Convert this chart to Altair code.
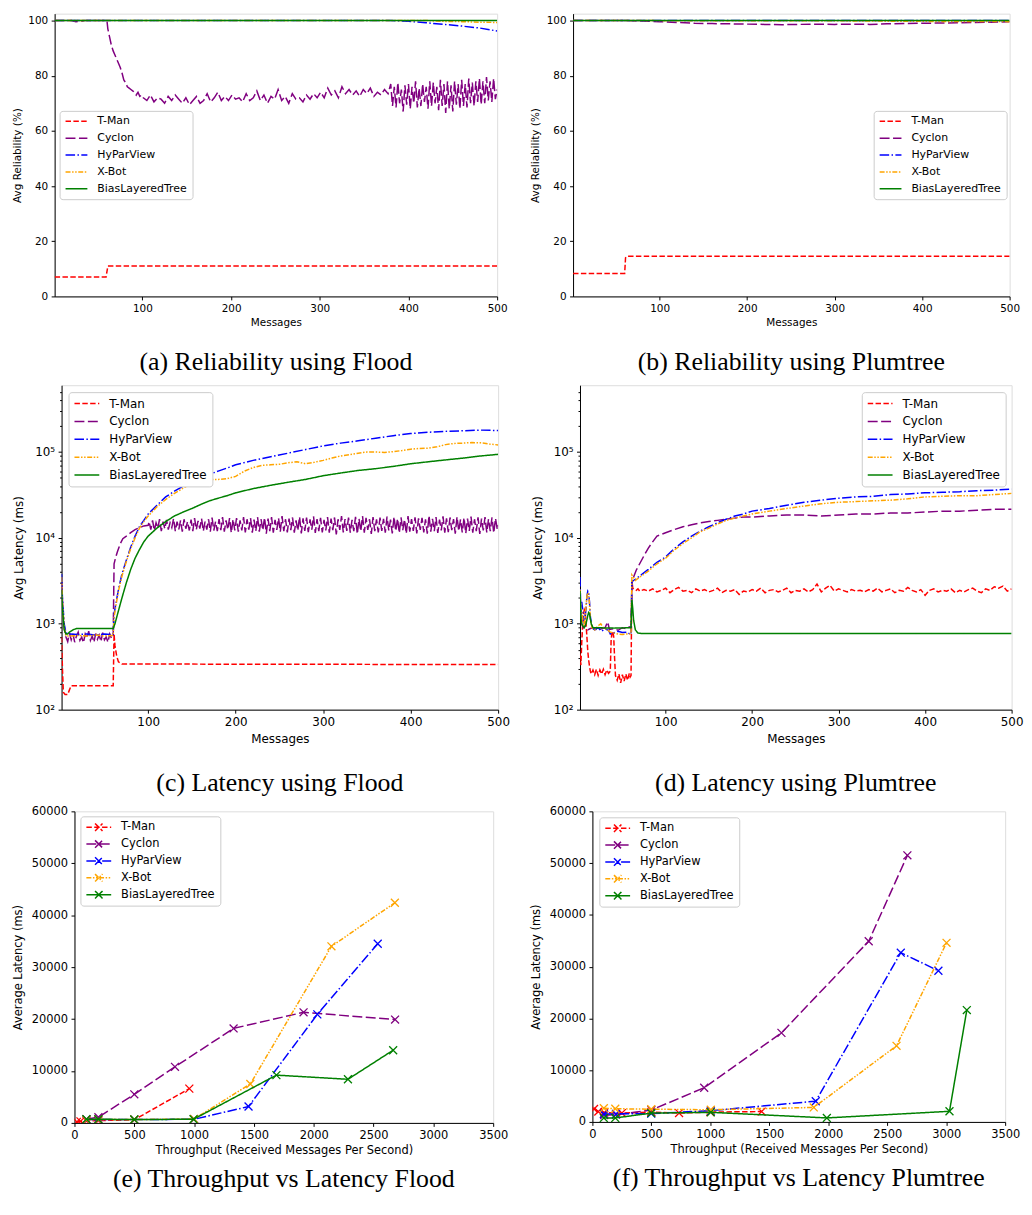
import altair as alt
import pandas as pd

FONT = "DejaVu Sans"
SERIF = "Liberation Serif"
SERIES = ["T-Man", "Cyclon", "HyParView", "X-Bot", "BiasLayeredTree"]
COLORS = ["#ff0000", "#800080", "#0000ff", "#ffa500", "#008000"]
DASHES = [[5.5, 2.4], [10, 3.5], [9.6, 2.4, 1.5, 2.4], [5, 1.6, 1.5, 1.6, 1.5, 1.6], [1, 0]]
XPATH = "M-1,-1L1,1M-1,1L1,-1"
LEG_PATH = "M-1,0L1,0M-0.3,-0.3L0.3,0.3M-0.3,0.3L0.3,-0.3"

MSG_TICKS = [100, 200, 300, 400, 500]
REL_TICKS = [0, 20, 40, 60, 80, 100]
LOG_TICKS = [100, 200, 300, 400, 500, 600, 700, 800, 900,
             1000, 2000, 3000, 4000, 5000, 6000, 7000, 8000, 9000,
             10000, 20000, 30000, 40000, 50000, 60000, 70000, 80000, 90000,
             100000, 200000, 300000, 400000, 500000]
THR_TICKS = [0, 500, 1000, 1500, 2000, 2500, 3000, 3500]
LAT_TICKS = [0, 10000, 20000, 30000, 40000, 50000, 60000]

# ---------------- (a) Reliability using Flood ----------------
a_tman_x = [1, 59, 61, 500]
a_tman_y = [7, 7, 11, 11]
a_cyc_x = [1, 20, 25, 30, 35, 59, 60, 61, 63, 65, 67, 69, 71, 73, 75, 77, 79, 81, 83, 85,
           87, 89, 91, 93, 95, 97, 99] + list(range(101, 378, 4)) + list(range(380, 501, 2))
a_cyc_y = [100, 100, 99.6, 99.7, 100, 100, 100, 97, 94, 91, 89, 87.5, 86, 84.5, 83, 81, 78.5, 77.5, 76, 75.5,
           75, 74.5, 74, 73, 74, 72.5, 73,
           72, 71, 73, 70.5, 72, 71.5, 70, 72.5, 71, 73, 71.5, 70, 72,
           69.5, 71, 72.5, 70, 71, 73.5, 70.5, 72, 74, 71, 72.5, 71,
           73, 71.5, 72, 70.5, 73.5, 71, 72, 74.5, 71, 73, 70, 72.5, 71.5,
           75, 71, 72.5, 70, 73.5, 71.5, 72, 70.5, 73, 71.5, 73.5, 72,
           74, 72, 75.5, 73, 74.5, 72, 76, 73.5, 75, 73, 74.5, 72.5, 75,
           73.5, 75.5, 72.5, 74, 73, 75, 73.5,
           77, 69, 76, 68.5, 77.5, 70, 75, 67, 76.5, 69.5,
           77, 68, 76, 70, 78, 68.5, 75.5, 69, 77, 70.5,
           76, 68, 78, 69, 77.5, 70, 76, 67.5, 78.5, 69,
           77, 66.5, 78, 68, 76.5, 67, 78, 69.5, 77, 68,
           78.5, 69, 77, 68.5, 79, 70, 77.5, 69, 78, 70.5,
           79, 69.5, 78, 70, 79.5, 71, 78, 70.5, 79, 71.5, 75]
a_hpv_x = [1, 380, 400, 420, 440, 460, 480, 500]
a_hpv_y = [100, 100, 99.7, 99.2, 98.6, 98.0, 97.3, 96.2]
a_xbot_x = [1, 420, 440, 460, 480, 500]
a_xbot_y = [100, 100, 99.7, 99.6, 99.4, 99.3]
a_blt_x = [1, 500]
a_blt_y = [100, 100]

# ---------------- (b) Reliability using Plumtree ----------------
b_tman_x = [1, 60, 61, 63, 500]
b_tman_y = [8.3, 8.3, 14, 14.6, 14.6]
b_cyc_x = [1, 60, 80, 100, 120, 140, 160, 180, 200, 220, 240, 260, 280, 300, 320, 340, 360,
           380, 400, 420, 440, 460, 480, 500]
b_cyc_y = [100, 100, 99.8, 99.6, 99.3, 99.0, 98.9, 98.8, 98.7, 98.6, 98.5, 98.6, 98.7, 98.6,
           98.7, 98.6, 98.8, 98.9, 99.0, 99.1, 99.2, 99.3, 99.4, 99.6]
b_hpv_x = [1, 500]
b_hpv_y = [100, 100]
b_xbot_x = [1, 300, 400, 500]
b_xbot_y = [100, 99.9, 99.7, 99.6]
b_blt_x = [1, 500]
b_blt_y = [100, 100]

# ---------------- (c) Latency using Flood ----------------
c_tman_x = [1, 2, 3, 5, 8, 10, 12, 59, 60, 61, 62, 64, 66, 70, 500]
c_tman_y = [700, 300, 160, 150, 150, 170, 190, 190, 190, 760, 560, 420, 360, 340, 335]
c_cyc_x = [1, 3, 5] + list(range(6, 59, 2)) + [60, 61, 63, 65, 68, 71, 75, 80, 85, 90, 95, 100] \
    + list(range(101, 500, 2)) + [500]
c_cyc_y = [3000, 1200, 750,
           700, 620, 780, 650, 760, 610, 720, 800, 640, 700, 600, 760, 680, 820, 640, 720,
           610, 770, 660, 740, 620, 790, 650, 700, 610, 760, 680,
           700, 5000, 6000, 7000, 8500, 9800, 10500, 11500, 12500, 13200, 13800, 14000,
           15500, 12500, 16000, 12200, 15000, 13000, 16500, 12000, 15500, 12800,
           16200, 12500, 15000, 13200, 16800, 12000, 15500, 12600, 16000, 11800,
           16500, 12800, 15500, 12200, 16300, 12000, 17000, 12500, 15800, 12800,
           16800, 12000, 15500, 12500, 16500, 11800, 17200, 12200, 15500, 12000,
           16500, 12300, 17500, 11800, 16000, 12500, 17000, 11500, 16500, 12200,
           17000, 11800, 16000, 12200, 17500, 11600, 16500, 12500, 17000, 11500,
           16300, 12000, 17500, 11800, 16500, 12300, 17200, 11200, 16800, 12000,
           17500, 11500, 16200, 12400, 17000, 11800, 18000, 12000, 16500, 11600,
           16800, 12300, 17300, 11500, 16000, 12200, 17600, 11300, 16900, 12100,
           17200, 11700, 16400, 12500, 17800, 11400, 16600, 12000, 17100, 11600,
           16200, 12200, 17500, 11500, 16800, 12300, 17300, 11000, 16500, 12400,
           18000, 11600, 16600, 12100, 17200, 11500, 16200, 12000, 17600, 11100,
           16700, 12000, 18000, 11500, 17100, 12400, 16500, 11100, 17500, 12000,
           16400, 11600, 17200, 12100, 16700, 11500, 17700, 12200, 16300, 11300,
           17600, 12000, 16800, 11400, 17300, 12300, 16400, 11200, 17900, 11800,
           16600, 12100, 17400, 11300, 16900, 12400, 17100, 11600, 16500, 11200,
           18200, 11800, 16700, 12000, 17500, 11400, 16300, 12200, 17800, 11500,
           16900, 11700, 17300, 12300, 16600, 11200, 17600, 12000, 16400, 11600,
           17200, 11300, 16800, 12100, 17700, 11500, 16500, 12000, 17400, 11100,
           16800, 12200, 17500, 11600, 16600, 12000, 17300, 11400, 16900, 12600,
           14000]
c_hpv_x = [1, 2, 4, 6, 10, 20, 30, 40, 50, 58, 60, 61, 63, 66, 70, 75, 80, 85, 90, 95, 100,
           110, 120, 130, 140, 150, 160, 170, 180, 190, 200, 220, 240, 260, 280, 300, 320, 340,
           360, 380, 400, 420, 440, 460, 480, 500]
c_hpv_y = [3800, 2000, 1000, 780, 760, 750, 760, 740, 760, 750, 760, 1300, 1700, 2500, 3800,
           5500, 7800, 10500, 13500, 16000, 19000, 24000, 30000, 35000, 40000, 45000, 50000,
           55000, 60000, 65000, 71000, 80000, 88000, 97000, 107000, 118000, 127000, 135000,
           145000, 155000, 164000, 170000, 174000, 177000, 180000, 178000]
c_xbot_x = [1, 2, 4, 6, 10, 20, 30, 40, 50, 58, 60, 61, 63, 66, 70, 75, 80, 85, 90, 95, 100,
            110, 120, 130, 140, 150, 160, 170, 180, 190, 200, 210, 220, 230, 240, 250, 260, 270,
            280, 290, 300, 310, 320, 330, 340, 350, 360, 370, 380, 390, 400, 410, 420, 430, 440,
            450, 460, 470, 480, 490, 500]
c_xbot_y = [3500, 1800, 900, 720, 720, 730, 720, 740, 720, 730, 730, 1200, 1600, 2400, 3600,
            5300, 7500, 10000, 13000, 15500, 18000, 23000, 28000, 33000, 38000, 43000, 46000,
            48000, 48000, 49000, 52000, 60000, 66000, 70000, 71000, 72000, 75000, 77000, 73000,
            76000, 80000, 85000, 90000, 93000, 97000, 100000, 100000, 99000, 101000, 104000,
            108000, 110000, 111000, 115000, 122000, 126000, 127000, 129000, 128000, 124000, 121000]
c_blt_x = [1, 2, 4, 6, 8, 10, 14, 18, 25, 40, 60, 62, 65, 70, 75, 80, 85, 90, 95, 100, 110, 120,
           130, 140, 150, 160, 170, 180, 190, 200, 220, 240, 260, 280, 300, 320, 340, 360, 380,
           400, 420, 440, 460, 480, 500]
c_blt_y = [2500, 1500, 850, 760, 760, 800, 850, 880, 880, 880, 880, 1000, 1300, 2000, 3000,
           4300, 5800, 7300, 9000, 10500, 13000, 15500, 18000, 20000, 22000, 24500, 27000, 29000,
           31000, 33500, 37500, 41000, 44500, 48000, 53000, 57000, 61000, 64000, 68000, 73000,
           77000, 81000, 85000, 90000, 94000]

# ---------------- (d) Latency using Plumtree ----------------
d_tman_x = [1, 2, 3, 4, 5, 6, 7, 8, 9, 10, 11, 12, 13, 14, 16, 18, 20, 22, 24, 26, 28, 30, 32,
            34, 36, 37, 38, 39, 40, 41, 42, 44, 46, 48, 50, 52, 54, 56, 58, 59, 60, 61, 62, 64,
            66, 68, 70] + list(range(75, 501, 5))
d_tman_y = [450, 330, 600, 950, 1300, 1450, 1350, 1000, 700, 480, 380, 320, 280, 260, 290, 255,
            295, 250, 290, 260, 295, 255, 290, 265, 280, 650, 780, 820, 700, 400, 250, 220, 260,
            205, 255, 215, 260, 220, 265, 240, 250, 3200, 2600, 2500, 2450, 2550, 2400,
            2500, 2400, 2550, 2350, 2450, 2600, 2300, 2500, 2650, 2400,
            2450, 2300, 2550, 2400, 2500, 2350, 2450, 2600, 2300, 2450,
            2400, 2500, 2200, 2400, 2350, 2500, 2400, 2600, 2300, 2450,
            2500, 2350, 2450, 2600, 2300, 2450, 2400, 2550, 2350, 2500,
            2900, 2350, 2600, 2800, 2400, 2550, 2450, 2350, 2500, 2400,
            2450, 2350, 2500, 2400, 2600, 2350, 2450, 2550, 2300, 2450,
            2400, 2650, 2450, 2350, 2500, 2150, 2450, 2550, 2350, 2450,
            2400, 2550, 2300, 2450, 2350, 2500, 2600, 2400, 2300, 2550,
            2450, 2700, 2600, 2750, 2400, 2550]
d_cyc_x = [1, 2, 3, 5, 7, 10, 13, 16, 20, 25, 30, 33, 35, 40, 45, 50, 55, 58, 60, 61, 63, 66,
           70, 75, 80, 85, 90, 95, 100, 110, 120, 130, 140, 150, 160, 170, 180, 190, 200, 220,
           240, 260, 280, 300, 320, 340, 360, 380, 400, 420, 440, 460, 480, 500]
d_cyc_y = [1500, 1300, 1000, 900, 950, 850, 880, 900, 850, 870, 900, 1050, 860, 880, 840, 900,
           870, 920, 900, 3000, 3500, 4200, 5000, 6200, 7600, 9000, 10500, 11000, 11500, 12500,
           13500, 14200, 15000, 15500, 16000, 16500, 17000, 17500, 17500, 18000, 18500, 18500,
           18000, 18500, 19000, 19000, 19500, 19500, 20000, 20500, 20500, 21000, 21500, 21500]
d_hpv_x = [1, 2, 3, 4, 5, 6, 8, 9, 10, 11, 12, 13, 15, 18, 22, 26, 30, 34, 36, 38, 40, 45, 50,
           55, 58, 60, 61, 65, 70, 80, 90, 100, 110, 120, 130, 140, 150, 160, 170, 180, 190, 200,
           220, 240, 260, 280, 300, 320, 340, 360, 380, 400, 420, 440, 460, 480, 500]
d_hpv_y = [3500, 1300, 1800, 1500, 1200, 1000, 1500, 2100, 2400, 2300, 1800, 1200, 900, 850,
           900, 820, 870, 840, 760, 800, 780, 820, 790, 800, 770, 750, 3100, 3300, 3600, 4300,
           5200, 6000, 7500, 9000, 10500, 12000, 13500, 15000, 16500, 18000, 19000, 20500, 22000,
           24000, 26000, 27500, 29000, 30000, 30500, 32000, 32500, 33500, 34000, 34500, 35500,
           36000, 37000]
d_xbot_x = [1, 2, 3, 4, 5, 6, 8, 9, 10, 11, 12, 13, 15, 18, 22, 25, 28, 32, 36, 40, 45, 50, 55,
            58, 60, 61, 65, 70, 80, 90, 100, 110, 120, 130, 140, 150, 160, 170, 180, 190, 200,
            220, 240, 260, 280, 300, 320, 340, 360, 380, 400, 420, 440, 460, 480, 500]
d_xbot_y = [2500, 1500, 1400, 1200, 1000, 950, 1600, 2100, 2300, 2200, 1700, 1100, 900, 850,
            950, 1000, 900, 860, 800, 780, 760, 750, 760, 760, 760, 3700, 3200, 3500, 4100, 5000,
            5800, 7200, 8600, 10000, 11800, 13000, 14500, 16000, 17000, 18000, 19000, 20500,
            22000, 23500, 25000, 26000, 26500, 27000, 27500, 28500, 30000, 30500, 31000, 31000,
            32000, 33000]
d_blt_x = [1, 2, 3, 4, 6, 8, 10, 11, 12, 14, 16, 20, 40, 60, 61, 62, 63, 65, 68, 72, 500]
d_blt_y = [2400, 1200, 1000, 950, 900, 1000, 1250, 1350, 1300, 1000, 900, 900, 890, 900, 1900,
           1500, 1100, 850, 780, 770, 770]

# ---------------- (e) Throughput vs Latency Flood ----------------
e_tman_x = [20, 50, 100, 200, 500, 960]
e_tman_y = [200, 300, 400, 450, 600, 6600]
e_cyc_x = [100, 200, 500, 840, 1330, 1915, 2680]
e_cyc_y = [700, 1100, 5500, 10800, 18200, 21300, 19900]
e_hpv_x = [100, 200, 500, 1000, 1455, 2030, 2535]
e_hpv_y = [600, 650, 650, 700, 3150, 20900, 34500]
e_xbot_x = [100, 200, 500, 1000, 1470, 2148, 2678]
e_xbot_y = [600, 650, 650, 750, 7500, 34000, 42400]
e_blt_x = [100, 200, 500, 995, 1688, 2286, 2664]
e_blt_y = [700, 700, 650, 700, 9200, 8400, 14000]

# ---------------- (f) Throughput vs Latency Plumtree ----------------
f_tman_x = [14, 50, 100, 250, 500, 735, 1000, 1435]
f_tman_y = [2500, 2000, 1800, 1700, 1900, 1700, 1900, 2000]
f_cyc_x = [100, 200, 500, 948, 1603, 2343, 2671]
f_cyc_y = [1300, 1400, 2300, 6600, 17200, 34900, 51500]
f_hpv_x = [97, 200, 499, 1004, 1894, 2615, 2934]
f_hpv_y = [1530, 1550, 1600, 2170, 4000, 32700, 29200]
f_xbot_x = [97, 194, 499, 1004, 1877, 2579, 3003]
f_xbot_y = [2650, 2550, 2450, 2350, 2800, 14700, 34600]
f_blt_x = [97, 194, 499, 1004, 1988, 3028, 3175]
f_blt_y = [770, 770, 1700, 1850, 770, 2050, 21600]


def frame(pairs):
    rows = []
    for name, (xs, ys) in zip(SERIES, pairs):
        for xv, yv in zip(xs, ys):
            rows.append({"x": xv, "y": yv, "s": name})
    return pd.DataFrame(rows)


def make_legend(lx, ly, fs, sym_type, sym_size, clip_h, row_pad):
    return alt.Legend(title=None, orient="none", legendX=lx, legendY=ly,
                      labelFont=FONT, labelFontSize=fs, labelColor="black",
                      symbolType=sym_type, symbolSize=sym_size, symbolStrokeWidth=1.5,
                      fillColor="white", strokeColor="#cccccc", cornerRadius=3,
                      padding=5, rowPadding=row_pad, labelOffset=9, clipHeight=clip_h,
                      labelLimit=300)


def panel(df, xs, ys, xax, yax, leg, caption, w, h, cap_offset, markers=False):
    color = alt.Color("s:N", scale=alt.Scale(domain=SERIES, range=COLORS), legend=leg)
    dash = alt.StrokeDash("s:N", scale=alt.Scale(domain=SERIES, range=DASHES), legend=leg)
    X = alt.X("x:Q", scale=xs, axis=xax)
    Y = alt.Y("y:Q", scale=ys, axis=yax)
    layers = []
    for i, name in enumerate(SERIES):
        base = alt.Chart(df).transform_filter(alt.datum.s == name)
        layers.append(base.mark_line(strokeWidth=1.5, clip=True).encode(
            x=X, y=Y, color=color, strokeDash=dash))
        if markers:
            layers.append(base.mark_point(shape=XPATH, size=64, filled=False, strokeWidth=1.3,
                                          opacity=1, clip=True).encode(
                x=X, y=Y, color=alt.value(COLORS[i])))
    return alt.layer(*layers).properties(
        width=w, height=h,
        title=alt.TitleParams(caption, orient="bottom", anchor="middle", frame="group",
                              font=SERIF, fontSize=26, fontWeight="normal", color="black",
                              offset=cap_offset))


def xaxis(title, values, fs, ext, tpad):
    return alt.Axis(title=title, values=values, labelFont=FONT, titleFont=FONT,
                    labelFontSize=fs, titleFontSize=fs, titleFontWeight="normal",
                    labelColor="black", titleColor="black", tickColor="black",
                    domainColor="black", grid=False, tickSize=3.5, labelPadding=3.5,
                    labelFlush=False, labelOverlap=False, format="d",
                    minExtent=ext, maxExtent=ext, titlePadding=tpad)


def yaxis(title, values, fs, ext, tpad, extra=None):
    kw = dict(title=title, values=values, labelFont=FONT, titleFont=FONT,
              labelFontSize=fs, titleFontSize=fs, titleFontWeight="normal",
              labelColor="black", titleColor="black", tickColor="black",
              domainColor="black", grid=False, tickSize=3.5, labelPadding=3.5,
              labelFlush=False, labelOverlap=False, format="d",
              minExtent=ext, maxExtent=ext, titlePadding=tpad)
    if extra:
        kw.update(extra)
    return alt.Axis(**kw)


LOG_LABEL = ("datum.value == 100 ? '10\u00b2' : datum.value == 1000 ? '10\u00b3' : "
             "datum.value == 10000 ? '10\u2074' : datum.value == 100000 ? '10\u2075' : ''")
LOG_TICKSIZE = {"condition": {"test": "indexof([100, 1000, 10000, 100000], datum.value) >= 0",
                              "value": 3.5}, "value": 2}
log_extra = {"labelExpr": LOG_LABEL, "tickSize": LOG_TICKSIZE}

msg_scale = alt.Scale(domain=[1, 500], nice=False, zero=False)
rel_scale = alt.Scale(domain=[0, 102.5], nice=False, zero=False)
log_scale = alt.Scale(type="log", domain=[100, 600000], nice=False)
thr_scale = alt.Scale(domain=[0, 3500], nice=False)
lat_scale = alt.Scale(domain=[0, 60000], nice=False)

df_a = frame([(a_tman_x, a_tman_y), (a_cyc_x, a_cyc_y), (a_hpv_x, a_hpv_y),
              (a_xbot_x, a_xbot_y), (a_blt_x, a_blt_y)])
df_b = frame([(b_tman_x, b_tman_y), (b_cyc_x, b_cyc_y), (b_hpv_x, b_hpv_y),
              (b_xbot_x, b_xbot_y), (b_blt_x, b_blt_y)])
df_c = frame([(c_tman_x, c_tman_y), (c_cyc_x, c_cyc_y), (c_hpv_x, c_hpv_y),
              (c_xbot_x, c_xbot_y), (c_blt_x, c_blt_y)])
df_d = frame([(d_tman_x, d_tman_y), (d_cyc_x, d_cyc_y), (d_hpv_x, d_hpv_y),
              (d_xbot_x, d_xbot_y), (d_blt_x, d_blt_y)])
df_e = frame([(e_tman_x, e_tman_y), (e_cyc_x, e_cyc_y), (e_hpv_x, e_hpv_y),
              (e_xbot_x, e_xbot_y), (e_blt_x, e_blt_y)])
df_f = frame([(f_tman_x, f_tman_y), (f_cyc_x, f_cyc_y), (f_hpv_x, f_hpv_y),
              (f_xbot_x, f_xbot_y), (f_blt_x, f_blt_y)])

pa = panel(df_a, msg_scale, rel_scale, xaxis("Messages", MSG_TICKS, 10.5, 18, 3),
           yaxis("Avg Reliability (%)", REL_TICKS, 10.5, 28, 4.5),
           make_legend(5, 98, 11, "stroke", 484, 11, 5),
           "(a) Reliability using Flood", 446, 285, 22)
pb = panel(df_b, msg_scale, rel_scale, xaxis("Messages", MSG_TICKS, 10.5, 18, 3),
           yaxis("Avg Reliability (%)", REL_TICKS, 10.5, 27, 6),
           make_legend(303, 98, 11, "stroke", 484, 11, 5),
           "(b) Reliability using Plumtree", 440, 285, 22)
pc = panel(df_c, msg_scale, log_scale, xaxis("Messages", MSG_TICKS, 12, 21, 3),
           yaxis("Avg Latency (ms)", LOG_TICKS, 12, 30, 6, log_extra),
           make_legend(7, 7, 12, "stroke", 625, 13, 5),
           "(c) Latency using Flood", 440, 327, 25.5)
pd_ = panel(df_d, msg_scale, log_scale, xaxis("Messages", MSG_TICKS, 12, 21, 3),
            yaxis("Avg Latency (ms)", LOG_TICKS, 12, 30, 6, log_extra),
            make_legend(284, 7, 12, "stroke", 625, 13, 5),
            "(d) Latency using Plumtree", 435, 327, 25.5)
pe = panel(df_e, thr_scale, lat_scale,
           xaxis("Throughput (Received Messages Per Second)", THR_TICKS, 11.5, 20, 2),
           yaxis("Average Latency (ms)", LAT_TICKS, 11.5, 45, 6),
           make_legend(6, 5, 11.5, LEG_PATH, 625, 12, 5),
           "(e) Throughput vs Latency Flood", 422, 314, 10, markers=True)
pf = panel(df_f, thr_scale, lat_scale,
           xaxis("Throughput (Received Messages Per Second)", THR_TICKS, 11.5, 20, 2),
           yaxis("Average Latency (ms)", LAT_TICKS, 11.5, 45, 6),
           make_legend(7, 6, 11.5, LEG_PATH, 625, 12, 5),
           "(f) Throughput vs Latency Plumtree", 416, 313, 10, markers=True)


def spacer():
    # an empty 1px cell that anchors each row at the left edge, so that rows are not
    # aligned on their plot areas
    return alt.Chart(pd.DataFrame({"v": [0]})).mark_point(size=0, opacity=0).encode(
        x=alt.value(0), y=alt.value(0)).properties(
        width=1, height=1, view=alt.ViewBackground(stroke="transparent"))


def independent(ch):
    return ch.resolve_scale(color="independent", strokeDash="independent").resolve_legend(
        color="independent", strokeDash="independent")


def row(l, r, sp):
    inner = independent(alt.hconcat(l, r, spacing=sp))
    return independent(alt.hconcat(spacer(), inner, spacing=0))


r1 = row(pa, pb, 21.5)
r2 = row(pc, pd_, 20.5)
r3 = row(pe, pf, 21)

chart = independent(alt.vconcat(r1, r2, r3, spacing=8.5)).properties(
    padding={"left": 1, "top": 0, "right": 0, "bottom": 0}
).configure_view(stroke="black", strokeWidth=1).configure(background="white")

chart.save("out.html", embed_options={"renderer": "svg", "actions": False})
